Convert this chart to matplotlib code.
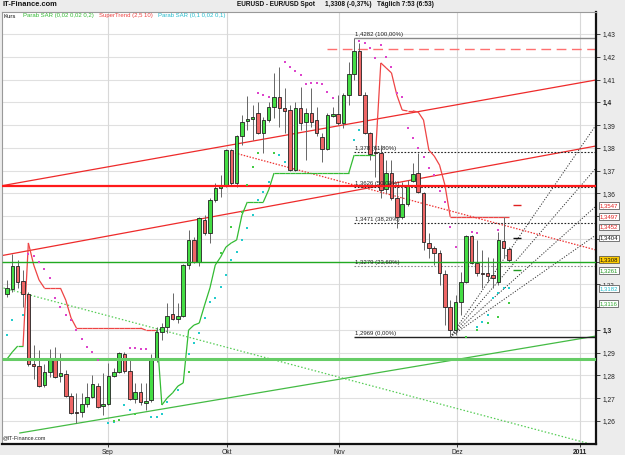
import matplotlib
matplotlib.use("Agg")
import matplotlib.pyplot as plt
import numpy as np
from matplotlib.collections import LineCollection
from matplotlib.transforms import blended_transform_factory, ScaledTranslation

plt.rcParams["font.family"] = ["Liberation Sans", "DejaVu Sans"]

W, H = 625, 455

# ---- Tageskerzen EUR/USD (Index 0..94) ----
opens = [1.3158, 1.3180, 1.3281, 1.3215, 1.3158, 1.2850, 1.2841, 1.2758, 1.2815, 1.2868,
         1.2797, 1.2806, 1.2710, 1.2639, 1.2639, 1.2674, 1.2705, 1.2753, 1.2666, 1.2674,
         1.2797, 1.2815, 1.2894, 1.2819, 1.2696, 1.2727, 1.2679, 1.2692, 1.2868, 1.2991,
         1.3013, 1.3070, 1.3048, 1.3061, 1.3285, 1.3395, 1.3298, 1.3483, 1.3426, 1.3571,
         1.3623, 1.3632, 1.3790, 1.3645, 1.3852, 1.3918, 1.3927, 1.3953, 1.3865, 1.3922,
         1.3979, 1.4023, 1.3975, 1.3966, 1.3702, 1.3975, 1.3913, 1.3953, 1.3922, 1.3847,
         1.3795, 1.3940, 1.3949, 1.3909, 1.4032, 1.4124, 1.4225, 1.4032, 1.3865, 1.3782,
         1.3777, 1.3619, 1.3689, 1.3579, 1.3496, 1.3553, 1.3654, 1.3689, 1.3601, 1.3382,
         1.3360, 1.3338, 1.3246, 1.3101, 1.2999, 1.3123, 1.3210, 1.3413, 1.3294, 1.3250,
         1.3250, 1.3241, 1.3210, 1.3391, 1.3355]
highs = [1.3219, 1.3333, 1.3307, 1.3263, 1.3166, 1.2934, 1.2912, 1.2850, 1.2916, 1.2925,
         1.2898, 1.2824, 1.2723, 1.2723, 1.2723, 1.2767, 1.2802, 1.2767, 1.2811, 1.2854,
         1.2833, 1.2903, 1.2903, 1.2868, 1.2767, 1.2767, 1.2767, 1.2894, 1.3013, 1.3030,
         1.3118, 1.3162, 1.3118, 1.3289, 1.3439, 1.3408, 1.3496, 1.3505, 1.3579, 1.3645,
         1.3680, 1.3795, 1.3795, 1.3856, 1.3944, 1.4028, 1.3988, 1.4001, 1.3935, 1.4001,
         1.4129, 1.4155, 1.4063, 1.3988, 1.4001, 1.4067, 1.3975, 1.4063, 1.3979, 1.3865,
         1.3953, 1.3979, 1.4032, 1.4041, 1.4177, 1.4282, 1.4260, 1.4045, 1.3870, 1.3812,
         1.3812, 1.3746, 1.3746, 1.3637, 1.3650, 1.3659, 1.3733, 1.3777, 1.3605, 1.3426,
         1.3369, 1.3351, 1.3263, 1.3131, 1.3153, 1.3254, 1.3417, 1.3417, 1.3395, 1.3350,
         1.3320, 1.3316, 1.3430, 1.3496, 1.3364]
lows = [1.3145, 1.3166, 1.3184, 1.3101, 1.2841, 1.2784, 1.2749, 1.2749, 1.2793, 1.2790,
        1.2771, 1.2705, 1.2630, 1.2591, 1.2617, 1.2661, 1.2701, 1.2657, 1.2626, 1.2670,
        1.2793, 1.2811, 1.2811, 1.2692, 1.2679, 1.2670, 1.2648, 1.2683, 1.2859, 1.2956,
        1.2986, 1.3043, 1.3030, 1.3057, 1.3267, 1.3294, 1.3281, 1.3417, 1.3382, 1.3562,
        1.3584, 1.3628, 1.3637, 1.3628, 1.3812, 1.3878, 1.3834, 1.3860, 1.3777, 1.3913,
        1.3931, 1.3891, 1.3865, 1.3698, 1.3698, 1.3878, 1.3746, 1.3891, 1.3852, 1.3738,
        1.3790, 1.3935, 1.3900, 1.3887, 1.3988, 1.4098, 1.4030, 1.3860, 1.3746, 1.3672,
        1.3579, 1.3601, 1.3571, 1.3448, 1.3487, 1.3544, 1.3650, 1.3601, 1.3351, 1.3316,
        1.3285, 1.3197, 1.3021, 1.2969, 1.2978, 1.3065, 1.3206, 1.3289, 1.3237, 1.3184,
        1.3210, 1.3184, 1.3197, 1.3316, 1.3298]
closes = [1.3184, 1.3281, 1.3210, 1.3158, 1.2850, 1.2841, 1.2753, 1.2815, 1.2872, 1.2793,
          1.2811, 1.2710, 1.2635, 1.2635, 1.2674, 1.2705, 1.2762, 1.2661, 1.2674, 1.2797,
          1.2815, 1.2898, 1.2819, 1.2696, 1.2727, 1.2683, 1.2688, 1.2868, 1.2991, 1.3013,
          1.3061, 1.3048, 1.3061, 1.3285, 1.3395, 1.3298, 1.3492, 1.3426, 1.3571, 1.3623,
          1.3632, 1.3790, 1.3645, 1.3852, 1.3913, 1.3927, 1.3935, 1.3865, 1.3922, 1.3979,
          1.4023, 1.3975, 1.3962, 1.3702, 1.3975, 1.3909, 1.3953, 1.3913, 1.3865, 1.3795,
          1.3944, 1.3949, 1.3909, 1.4032, 1.4124, 1.4225, 1.4032, 1.3865, 1.3773, 1.3777,
          1.3615, 1.3689, 1.3579, 1.3496, 1.3553, 1.3637, 1.3685, 1.3605, 1.3386, 1.3360,
          1.3338, 1.3250, 1.3101, 1.2999, 1.3123, 1.3210, 1.3413, 1.3294, 1.3250, 1.3246,
          1.3237, 1.3228, 1.3395, 1.3360, 1.3308]

# ---- SuperTrend (2,5 10) ----
st_vals = ([1.2872, 1.2903, 1.2929, 1.2929]
           + [1.3382, 1.3285, 1.3219, 1.3184, 1.3184, 1.3184, 1.3184, 1.3131, 1.3052]
           + [1.3008] * 13 + [1.2999] * 3
           + [1.2670, 1.2701, 1.2723, 1.2753, 1.2767, 1.2999, 1.3021, 1.3030, 1.3109,
              1.3184, 1.3285, 1.3320, 1.3364, 1.3382, 1.3395, 1.3505]
           + [1.3562] * 4 + [1.3615] + [1.3689] * 15 + [1.3768] * 5
           + [1.4173, 1.4151, 1.4129, 1.4032, 1.3966, 1.3962, 1.3962, 1.3957, 1.3922,
              1.3790, 1.3764, 1.3724, 1.3637] + [1.3497] * 12)
st_dir = [1] * 4 + [-1] * 25 + [1] * 41 + [-1] * 25

# ---- Parabolic SAR Punkte ----
sar_fast_idx = [0, 1, 3, 19, 20, 22, 23, 27, 28, 29, 30, 32, 34, 35, 36, 37, 38, 39, 40, 41,
                42, 43, 44, 45, 46, 47, 48, 49, 51, 52, 65, 66, 88, 89, 90, 91, 92, 93, 94]
sar_fast_val = [1.2978, 1.3043, 1.3065, 1.2591, 1.2595, 1.2670, 1.2648, 1.2617, 1.2617, 1.2630,
                1.2683, 1.2736, 1.2894, 1.2942, 1.2986, 1.3052, 1.3123, 1.3140, 1.3188, 1.3241,
                1.3307, 1.3342, 1.3395, 1.3448, 1.3505, 1.3571, 1.3606, 1.3650, 1.3768, 1.3738,
                1.3834, 1.3878, 1.3013, 1.3035, 1.3065, 1.3140, 1.3160, 1.3184, 1.3182]
sar_slow_idx = [20, 21, 24, 34, 40, 42, 44, 45, 46, 47, 50, 86, 88, 90, 92, 94]
sar_slow_val = [1.2600, 1.2604, 1.2630, 1.2815, 1.3338, 1.3452, 1.3518, 1.3637, 1.3716, 1.3777,
                1.3777, 1.2969, 1.3000, 1.3030, 1.3057, 1.3116]
sar_up_idx = [4, 5, 6, 7, 8, 9, 10, 11, 12, 13, 14, 15, 16, 17, 23, 24, 25, 26, 47, 48, 49,
              52, 53, 54, 55, 56, 57, 58, 59, 60, 61, 66, 67, 68, 69, 70, 71, 72, 73, 74, 75,
              76, 77, 78, 79, 80, 81, 82, 83, 84, 87, 88, 92]
sar_up_val = [1.3333, 1.3324, 1.3298, 1.3267, 1.3228, 1.3140, 1.3101, 1.3065, 1.3043, 1.2999,
              1.2960, 1.2925, 1.2903, 1.2868, 1.2920, 1.2920, 1.2916, 1.2916, 1.4040, 1.4030,
              1.4023, 1.4177, 1.4155, 1.4137, 1.4120, 1.4080, 1.4084, 1.4084, 1.4080, 1.4045,
              1.4019, 1.4270, 1.4260, 1.4238, 1.4195, 1.4251, 1.4200, 1.4155, 1.4041, 1.4023,
              1.3887, 1.3843, 1.3799, 1.3760, 1.3711, 1.3680, 1.3610, 1.3560, 1.3452, 1.3364,
              1.3430, 1.3426, 1.3440]

# ---- Fibonacci (Hoch 1,4282 / Tief 1,2969) ----
fib_vals = [1.4282, 1.3780, 1.3626, 1.3471, 1.3279, 1.2969]
fib_text = ["1,4282 (100,00%)", "1,378 (61,80%)", "1,3626 (50,00%)",
            "1,3471 (38,20%)", "1,3279 (23,60%)", "1,2969 (0,00%)"]
fib_start = 65

# ---- Trendlinien (Index, Kurs) ----
chan_upper = ([-1.3, 110.3], [1.3632, 1.4098])
chan_lower = ([-1.3, 110.3], [1.3325, 1.3808])
red_dotted = ([42.7, 110.3], [1.3777, 1.3351])
green_rising = ([2.4, 110.3], [1.2547, 1.2973])
green_dotted = ([-1.3, 109.2], [1.3188, 1.2499])
fan_origin = (83, 1.2969)
fan_ends = [1.3900, 1.3711, 1.3544, 1.3417]
red_level = 1.3630
red_dash_level = 1.4235
green_level_1 = 1.3298
green_level_2 = 1.2872

# ---- Kursmarken rechts ----
tag_vals = [1.3547, 1.3497, 1.3452, 1.3404, 1.3308, 1.3261, 1.3182, 1.3116]
tag_fg = ["#e02020", "#e02020", "#e02020", "#111111", "#111111", "#229922", "#22bbcc", "#33aa33"]
tag_bg = ["white", "white", "white", "white", "#ffcc00", "white", "white", "white"]
mark_vals = [1.3547, 1.3404, 1.3261]
mark_cols = ["#e02020", "#111111", "#229922"]

month_pos = [18.9, 41.2, 62.2, 84.3, 107.3]
month_lab = ["Sep", "Okt", "Nov", "Dez", "2011"]

XL = (-0.94, 110.3)
YL = (1.24986, 1.43967)

fig = plt.figure(figsize=(W / 100, H / 100), dpi=100, facecolor="#ececec")
ax = fig.add_axes([2 / W, 11 / H, 594 / W, 432 / H])
ax.set_facecolor("white")
ax.set_xlim(*XL)
ax.set_ylim(*YL)

yt = np.round(np.arange(1.26, 1.4301, 0.01), 2)
ax.hlines(yt, XL[0], XL[1], color="#e0e0e0", lw=0.8, zorder=0)
ax.vlines(month_pos, YL[0], YL[1], color="#d8d8d8", lw=0.8, zorder=0)

# Trendlinien
ax.plot(*chan_upper, color="#ee2a2a", lw=0.9, zorder=2)
ax.plot(*chan_lower, color="#ee2a2a", lw=0.9, zorder=2)
ax.plot(*red_dotted, color="#ee3333", lw=0.9, ls=(0, (1.2, 1.2)), zorder=2)
ax.plot(*green_rising, color="#44bb44", lw=0.9, zorder=2)
ax.plot(*green_dotted, color="#55cc55", lw=0.9, ls=(0, (1.2, 1.6)), zorder=2)
for pe in fan_ends:
    ax.plot([fan_origin[0], XL[1]], [fan_origin[1], pe], color="#333333", lw=0.7,
            ls=(0, (1.2, 1.6)), zorder=2)
ax.hlines(red_dash_level, 60, XL[1], color="#ff7070", lw=1.0, ls=(0, (7, 4)), zorder=2)

# Fibonacci
fib_style = [("#888888", "-", 1.0), ("#222222", (0, (1.5, 1.5)), 0.8), ("#222222", (0, (1.5, 1.5)), 0.8),
             ("#222222", (0, (1.5, 1.5)), 0.8), ("#888888", (0, (1.5, 1.5)), 0.8), ("#222222", "-", 1.0)]
for v, t, (col, ls, lw) in zip(fib_vals, fib_text, fib_style):
    ax.hlines(v, fib_start, XL[1], color=col, ls=ls, lw=lw, zorder=2)
    ax.text(fib_start + 0.2, v + 0.0004, t, fontsize=4.3, color="#222222", va="bottom",
            ha="left", zorder=7)

# SuperTrend
segs = [[(k - 1, st_vals[k - 1]), (k, st_vals[k])] for k in range(1, len(st_vals))]
st_cols = ["#33bb33" if st_dir[k] > 0 else "#ee4444" for k in range(1, len(st_vals))]
ax.add_collection(LineCollection(segs, colors=st_cols, linewidths=0.9, zorder=3))

# Kerzen
o, h, l, c = map(np.array, (opens, highs, lows, closes))
idx = np.arange(len(o))
up = c >= o
ax.vlines(idx, l, h, color="#666666", lw=0.7, zorder=4)
ax.bar(idx, np.maximum(np.abs(c - o), 0.00014), bottom=np.minimum(o, c), width=0.66,
       color=np.where(up, "#44dd44", "#ee6666"), edgecolor="#222222", linewidth=0.6, zorder=5)

# horizontale Linien über den Kerzen
ax.hlines(red_level, XL[0], XL[1], color="#ff1a1a", lw=1.6, zorder=6)
ax.hlines(green_level_1, XL[0], XL[1], color="#22aa22", lw=1.0, zorder=6)
ax.hlines(green_level_2, XL[0], XL[1], color="#66cc66", lw=2.2, zorder=6)

# SAR Punkte
ax.scatter(sar_fast_idx, sar_fast_val, s=1.8, marker="s", color="#22cccc", lw=0, zorder=7)
ax.scatter(sar_slow_idx, sar_slow_val, s=1.8, marker="s", color="#44cc44", lw=0, zorder=7)
ax.scatter(sar_up_idx, sar_up_val, s=1.8, marker="s", color="#dd44cc", lw=0, zorder=7)

# kleine Marken rechts der letzten Kerze
ax.hlines(mark_vals, 94.7, 96.3, colors=mark_cols, lw=1.0, zorder=7)

# Achsen
for s in ("left", "top"):
    ax.spines[s].set_color("#999999")
    ax.spines[s].set_linewidth(0.8)
for s in ("right", "bottom"):
    ax.spines[s].set_color("#111111")
    ax.spines[s].set_linewidth(1.6)

# Kursmarken verdecken die Skalenwerte 1,35 / 1,34 / 1,33 / 1,31
tag_covered = [1.35, 1.34, 1.33, 1.31]
ax.yaxis.tick_right()
ax.set_yticks(yt)
ylabs = ["" if any(abs(v - cv) < 1e-6 for cv in tag_covered)
         else f"{v:.2f}".rstrip("0").replace(".", ",") for v in yt]
ax.set_yticklabels(ylabs)
for t, v in zip(ax.get_yticklabels(), yt):
    if abs(v * 10 - round(v * 10)) < 1e-6:
        t.set_fontweight("bold")
    if abs(v - 1.32) < 1e-6:
        # 1,32 sitzt knapp über der Marke 1,3182
        t.set_transform(t.get_transform() + ScaledTranslation(0, 2.5 / 72, fig.dpi_scale_trans))
        t.set_fontsize(4.3)
ax.tick_params(axis="y", length=3, width=0.6, pad=1.5, labelsize=4.8, colors="#222222")
for t, v in zip(ax.get_yticklabels(), yt):
    if abs(v - 1.32) < 1e-6:
        t.set_fontsize(4.3)

ax.set_xticks(month_pos)
ax.set_xticklabels(month_lab)
ax.get_xticklabels()[-1].set_fontweight("bold")
ax.tick_params(axis="x", length=2, width=0.6, pad=1.5, labelsize=4.8, colors="#222222")

tr = blended_transform_factory(ax.transAxes, ax.transData)
for v, fg, bg in zip(tag_vals, tag_fg, tag_bg):
    ax.text(1.006, v, f"{v:.4f}".replace(".", ","), transform=tr, fontsize=4.3, color=fg,
            va="center", ha="left", clip_on=False, zorder=10,
            bbox=dict(boxstyle="square,pad=0.15", fc=bg, ec="#444444", lw=0.5))

# Kopfzeile / Legende
def ftxt(x, y, s, **kw):
    fig.text(x / W, 1 - y / H, s, va="center", ha="left", **kw)

ftxt(3, 5, "IT-Finance.com", fontsize=5.4, fontweight="bold", color="#111111")
ftxt(237, 5, "EURUSD - EUR/USD Spot", fontsize=4.7, fontweight="bold", color="#111111")
ftxt(325, 5, "1,3308 (-0,37%)", fontsize=4.7, fontweight="bold", color="#111111")
ftxt(377, 5, "Täglich 7:53 (6:53)", fontsize=4.7, fontweight="bold", color="#111111")
ftxt(4, 16, "Kurs", fontsize=4.3, color="#111111")
ftxt(23, 16, "Parab SAR (0,02 0,02 0,2)", fontsize=4.3, color="#33bb33")
ftxt(99, 16, "SuperTrend (2,5 10)", fontsize=4.3, color="#ee4444")
ftxt(158, 16, "Parab SAR (0,1 0,02 0,1)", fontsize=4.3, color="#22bbcc")
ftxt(3, 438, "@IT-Finance.com", fontsize=4.0, color="#222222")

fig.savefig("out.png", dpi=100, facecolor=fig.get_facecolor())
